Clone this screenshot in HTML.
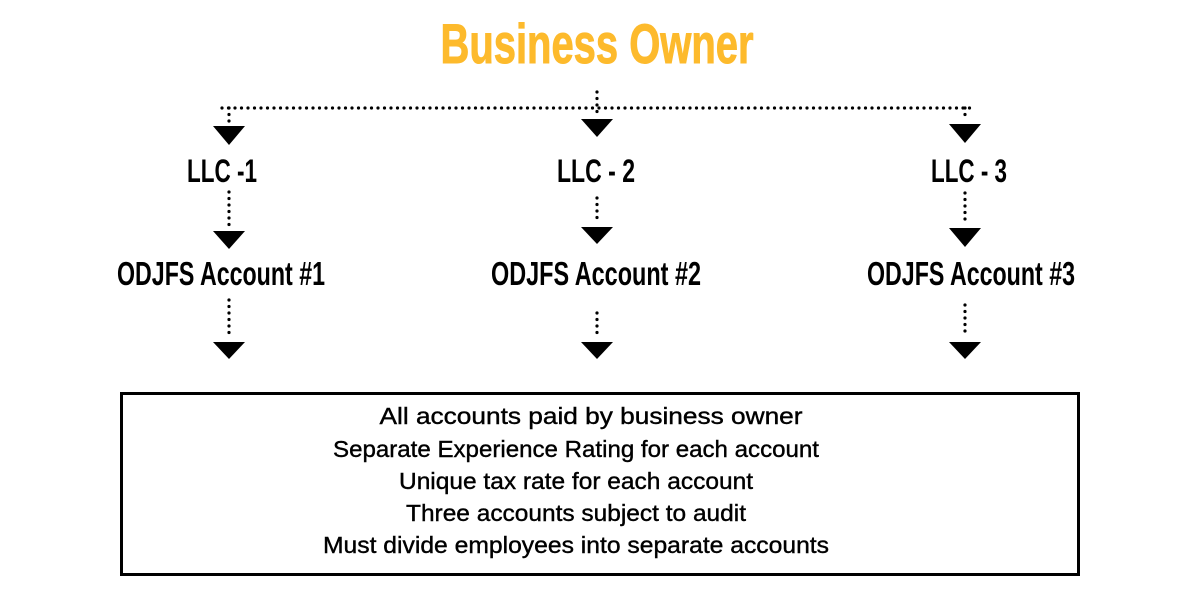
<!DOCTYPE html>
<html><head><meta charset="utf-8"><style>
html,body{margin:0;padding:0;background:#fff;width:1200px;height:600px;overflow:hidden}
svg{display:block}
.h{font-family:"Liberation Sans",sans-serif;font-weight:bold;fill:#000}
.b{font-family:"Liberation Sans",sans-serif;fill:#000;font-size:23px;stroke:#000;stroke-width:0.4}
</style></head><body>
<svg width="1200" height="600" viewBox="0 0 1200 600">
<text x="597" y="63" text-anchor="middle" class="h" style="fill:#FDBA2C;font-size:56px;stroke:#FDBA2C;stroke-width:1" textLength="313" lengthAdjust="spacingAndGlyphs">Business Owner</text>
<g stroke="#000" stroke-width="3.2" stroke-linecap="round" stroke-dasharray="0 6.5" fill="none">
<line x1="222" y1="108" x2="970" y2="108"/>
<line x1="597" y1="92" x2="597" y2="116"/>
<line x1="229" y1="108" x2="229" y2="122"/>
<line x1="965" y1="108" x2="965" y2="120"/>
<line x1="229" y1="192" x2="229" y2="227"/>
<line x1="597" y1="198" x2="597" y2="222"/>
<line x1="965" y1="193" x2="965" y2="225"/>
<line x1="229" y1="300" x2="229" y2="336"/>
<line x1="597" y1="313" x2="597" y2="337"/>
<line x1="965" y1="305" x2="965" y2="337"/>
</g>
<g fill="#000">
<polygon points="213,126 245,126 229,145"/>
<polygon points="581,119 613,119 597,137"/>
<polygon points="949,124 981,124 965,143"/>
<polygon points="213,231 245,231 229,249"/>
<polygon points="581,227 613,227 597,244"/>
<polygon points="949,228 981,228 965,247"/>
<polygon points="213,342 245,342 229,359"/>
<polygon points="581,342 613,342 597,359"/>
<polygon points="949,342 981,342 965,359"/>
</g>
<g class="h" style="font-size:32px" text-anchor="middle">
<text x="222" y="182" textLength="70" lengthAdjust="spacingAndGlyphs">LLC -1</text>
<text x="596" y="182" textLength="78" lengthAdjust="spacingAndGlyphs">LLC - 2</text>
<text x="969" y="182" textLength="76" lengthAdjust="spacingAndGlyphs">LLC - 3</text>
</g>
<g class="h" style="font-size:33px" text-anchor="middle">
<text x="221" y="285" textLength="208" lengthAdjust="spacingAndGlyphs">ODJFS Account #1</text>
<text x="596" y="285" textLength="210" lengthAdjust="spacingAndGlyphs">ODJFS Account #2</text>
<text x="971" y="285" textLength="208" lengthAdjust="spacingAndGlyphs">ODJFS Account #3</text>
</g>
<rect x="121.5" y="393.5" width="957" height="181" fill="none" stroke="#000" stroke-width="3"/>
<g class="b" text-anchor="middle">
<text x="591" y="424" textLength="423" lengthAdjust="spacingAndGlyphs">All accounts paid by business owner</text>
<text x="576" y="457" textLength="486" lengthAdjust="spacingAndGlyphs">Separate Experience Rating for each account</text>
<text x="576" y="489" textLength="354" lengthAdjust="spacingAndGlyphs">Unique tax rate for each account</text>
<text x="576" y="521" textLength="340" lengthAdjust="spacingAndGlyphs">Three accounts subject to audit</text>
<text x="576" y="553" textLength="506" lengthAdjust="spacingAndGlyphs">Must divide employees into separate accounts</text>
</g>
</svg>
</body></html>
